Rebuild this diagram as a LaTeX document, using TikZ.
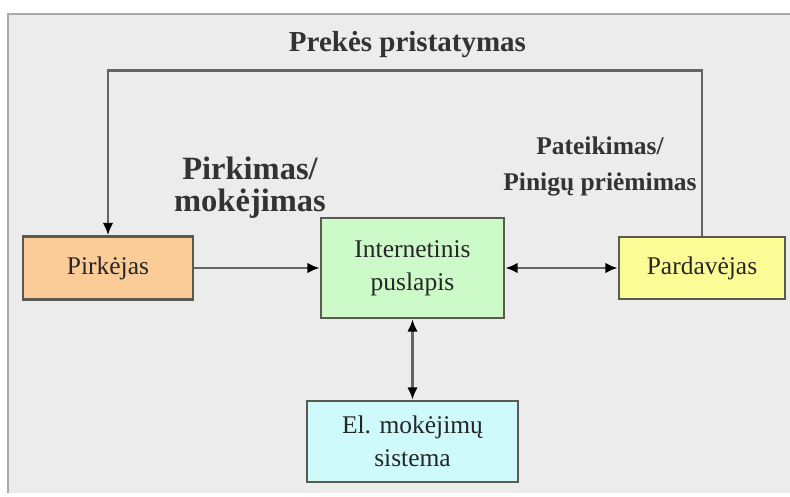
\documentclass[tikz,border=0pt]{standalone}
\usepackage{fontspec}
\setmainfont{Liberation Serif}
\usetikzlibrary{arrows.meta}
\definecolor{panelgray}{RGB}{236,236,236}
\definecolor{framegray}{RGB}{170,170,170}
\definecolor{linkgray}{RGB}{100,100,100}
\definecolor{boxline}{RGB}{90,90,80}
\definecolor{buyerorange}{RGB}{252,204,152}
\definecolor{sitegreen}{RGB}{204,250,200}
\definecolor{selleryellow}{RGB}{252,252,150}
\definecolor{paycyan}{RGB}{206,250,252}
\tikzset{box style/.style={
		draw=boxline,
		line width=1.4pt,
		rectangle,
		text=black!85,
		font=\fontsize{14.5}{19}\selectfont,
		align=center,
		inner sep=0pt,
	},
	buyer style/.style={
		box style,
		fill=buyerorange,
		minimum width=3.4cm,
		minimum height=1.26cm,
	},
	site style/.style={
		box style,
		fill=sitegreen,
		minimum width=3.66cm,
		minimum height=2cm,
	},
	seller style/.style={
		box style,
		fill=selleryellow,
		minimum width=3.32cm,
		minimum height=1.24cm,
	},
	pay style/.style={
		box style,
		fill=paycyan,
		minimum width=4.22cm,
		minimum height=1.62cm,
	},
	link style/.style={
		draw=linkgray,
		line width=1.5pt,
	},
	edge style/.style={
		text=black!80,
		font=\bfseries\fontsize{#1}{#1}\selectfont,
		align=center,
		inner sep=1pt,
	}
}

\begin{document}
\begin{tikzpicture}[node distance=6cm, >={Latex[length=7pt,width=6pt,color=black]}]
	\useasboundingbox (0,0) rectangle (15.8,-9.94);
	\fill[panelgray] (0.16,-0.28) rectangle (15.8,-9.86);
	\draw[framegray, line width=1.5pt] (0.16,-9.86) -- (0.16,-0.28) -- (15.8,-0.28);
	
	\node[site style] (Internetas) at (8.25,-5.36) {Internetinis\\puslapis};
	
	\node[buyer style, left of=Internetas, xshift=-0.09cm] (Pirkejas) {Pirkėjas}
	edge [->, link style] (Internetas);
	
	\node[seller style, right of=Internetas, xshift=-0.21cm] (Pardavejas) {Pardavėjas}
	edge [<->, link style] (Internetas);
	
	\node[pay style, below of=Internetas, yshift=2.53cm] (Mokejimai) {El. mokėjimų\\sistema}
	edge [<->, link style] (Internetas);
	
	\draw[->, link style] (Pardavejas.north) -- ++(0,3.3) -| (Pirkejas.north);
	
	\node[edge style=16.5] (Pristatymas) at (8.15,-0.9) {Prekės pristatymas};
	\node[edge style=18.5, text depth=0pt] (Pirkimas) at (5.0,-3.68) {Pirkimas/\\mokėjimas};
	\node[edge style=14.5, font=\bfseries\fontsize{14.5}{21}\selectfont] (Pateikimas) at (12.0,-3.33) {Pateikimas/\\Pinigų priėmimas};
\end{tikzpicture}
\end{document}
